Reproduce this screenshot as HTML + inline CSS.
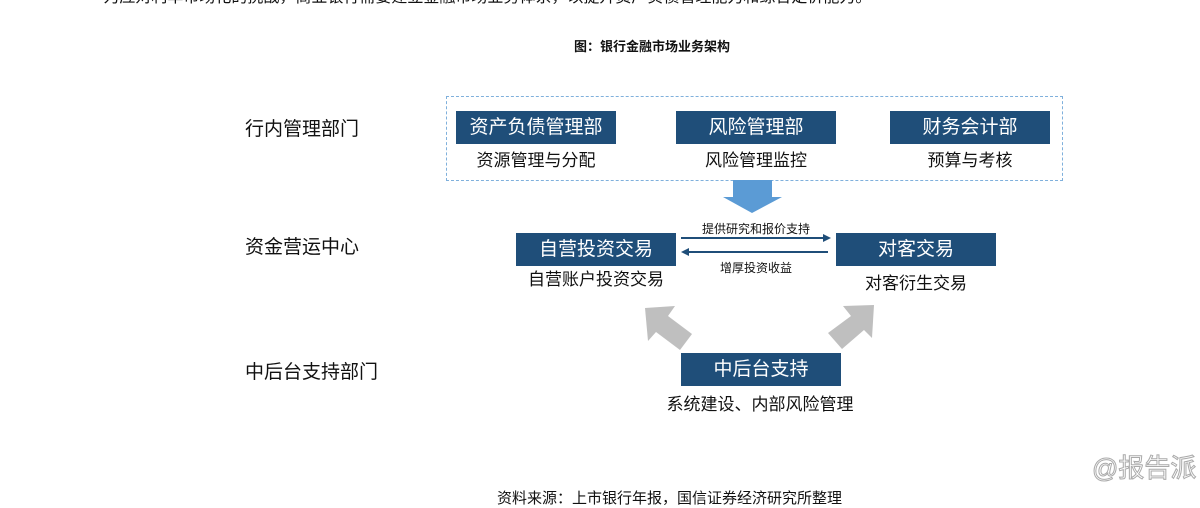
<!DOCTYPE html>
<html><head><meta charset="utf-8"><style>
body{margin:0;width:1200px;height:495px;background:#fff;position:relative;overflow:hidden;font-family:"Liberation Sans","Noto Sans CJK SC",sans-serif;color:#111}
.a{position:absolute;white-space:nowrap}
.b{position:absolute;background:#1f4e79;color:#fff;font-size:19px;text-align:center;height:33px;line-height:33px;width:160px}
.s{position:absolute;font-size:17px;text-align:center;width:220px}
.l{position:absolute;font-size:19px}
</style></head><body>
<div class="a" style="left:80px;top:-17px;font-size:16px">•&nbsp;&nbsp;&nbsp;&nbsp;为应对利率市场化的挑战，商业银行需要建立金融市场业务体系，以提升资产负债管理能力和综合定价能力。</div>
<div class="a" style="left:574px;top:36px;font-size:13px;font-weight:bold">图：银行金融市场业务架构</div>
<div class="a" style="left:446px;top:96px;width:615px;height:83px;border:1px dashed #7fb0dc"></div>
<div class="l" style="left:245px;top:114px">行内管理部门</div>
<div class="l" style="left:245px;top:232px">资金营运中心</div>
<div class="l" style="left:245px;top:357px">中后台支持部门</div>
<div class="b" style="left:456px;top:111px">资产负债管理部</div>
<div class="b" style="left:676px;top:111px">风险管理部</div>
<div class="b" style="left:890px;top:111px">财务会计部</div>
<div class="s" style="left:426px;top:146px">资源管理与分配</div>
<div class="s" style="left:646px;top:146px">风险管理监控</div>
<div class="s" style="left:860px;top:146px">预算与考核</div>
<div class="b" style="left:516px;top:233px">自营投资交易</div>
<div class="b" style="left:836px;top:233px">对客交易</div>
<div class="s" style="left:486px;top:265px">自营账户投资交易</div>
<div class="s" style="left:806px;top:269px">对客衍生交易</div>
<div class="b" style="left:681px;top:353px">中后台支持</div>
<div class="s" style="left:650px;top:390px;width:220px">系统建设、内部风险管理</div>
<div class="a" style="left:681px;top:220px;width:150px;text-align:center;font-size:12px">提供研究和报价支持</div>
<div class="a" style="left:681px;top:259px;width:150px;text-align:center;font-size:12px">增厚投资收益</div>
<svg class="a" style="left:0;top:0" width="1200" height="495">
<polygon points="733,180 772,180 772,197 782,197 752,213 723,197 733,197" fill="#5b9bd5"/>
<line x1="681" y1="238" x2="825" y2="238" stroke="#1f4e79" stroke-width="2"/>
<polygon points="831,238 823,234 823,242" fill="#1f4e79"/>
<line x1="687" y1="252" x2="828" y2="252" stroke="#1f4e79" stroke-width="2"/>
<polygon points="681,252 689,248 689,256" fill="#1f4e79"/>
<polygon points="645,308 675,306 668,316 692,334 680,350 656,332 648,341" fill="#bfbfbf"/>
<polygon points="874,305 843,306 851,316 828,333 842,349 864,330 872,338" fill="#bfbfbf"/>
</svg>
<div class="a" style="left:497px;top:487px;font-size:15px">资料来源：上市银行年报，国信证券经济研究所整理</div>
<div class="a" style="left:1092px;top:448px;font-size:26px;color:#fff;-webkit-text-stroke:1px #aaa">@报告派</div>
</body></html>
